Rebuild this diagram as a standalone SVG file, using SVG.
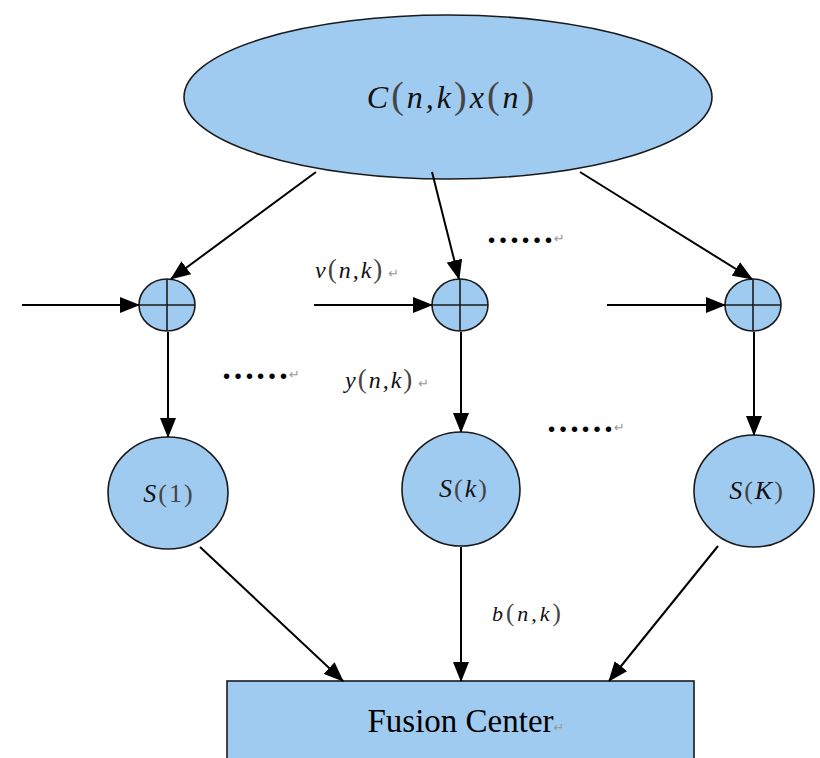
<svg xmlns="http://www.w3.org/2000/svg" width="820" height="758" viewBox="0 0 820 758">
<style>
.node{fill:#A0CBF0;stroke:#1a1a1a;stroke-width:1.6}
.cross{stroke:#1a1a1a;stroke-width:1.6}
.edge{stroke:#000;stroke-width:2;fill:none}
.math{font-family:"Liberation Serif","Times New Roman","DejaVu Serif",serif;font-style:italic;fill:#111}
.par{font-style:normal;fill:#444;font-weight:normal}
.ret{font-family:"DejaVu Sans",sans-serif;fill:#999;font-size:13px;font-style:normal;font-weight:normal;letter-spacing:0}
.dots{font-family:"Liberation Serif","Times New Roman","DejaVu Serif",serif;font-weight:bold;fill:#000;font-size:34px}
.title{font-family:"Liberation Serif","Times New Roman","DejaVu Serif",serif;fill:#000}
</style>
<defs>
<marker id="ah" markerUnits="userSpaceOnUse" markerWidth="20" markerHeight="16" refX="19" refY="8" orient="auto">
<path d="M0,0 L20,8 L0,16 z" fill="#000"/>
</marker>
</defs>
<g id="source">
<ellipse class="node" cx="448" cy="97" rx="264" ry="82"/>
<text class="math" x="452" y="108" font-size="32" letter-spacing="3" text-anchor="middle">C<tspan class="par" font-size="38">(</tspan>n,k<tspan class="par" font-size="38">)</tspan>x<tspan class="par" font-size="38">(</tspan>n<tspan class="par" font-size="38">)</tspan></text>
</g>
<g id="adder1">
<ellipse class="node" cx="167" cy="305" rx="28" ry="26"/>
<line class="cross" x1="139" y1="305" x2="195" y2="305"/>
<line class="cross" x1="167" y1="279" x2="167" y2="331"/>
</g>
<g id="adderk">
<ellipse class="node" cx="460" cy="305" rx="28" ry="26"/>
<line class="cross" x1="432" y1="305" x2="488" y2="305"/>
<line class="cross" x1="460" y1="279" x2="460" y2="331"/>
</g>
<g id="adderK">
<ellipse class="node" cx="753" cy="305" rx="28" ry="26"/>
<line class="cross" x1="725" y1="305" x2="781" y2="305"/>
<line class="cross" x1="753" y1="279" x2="753" y2="331"/>
</g>
<g id="s1">
<ellipse class="node" cx="168" cy="493" rx="60" ry="56"/>
<text class="math" x="169" y="502" font-size="26" letter-spacing="2" text-anchor="middle">S<tspan class="par">(1)</tspan></text>
</g>
<g id="sk">
<ellipse class="node" cx="461" cy="489" rx="59" ry="57"/>
<text class="math" x="464" y="497" font-size="26" letter-spacing="2" text-anchor="middle">S<tspan class="par">(</tspan>k<tspan class="par">)</tspan></text>
</g>
<g id="sK">
<ellipse class="node" cx="754" cy="491" rx="60" ry="56"/>
<text class="math" x="757" y="499" font-size="26" letter-spacing="2" text-anchor="middle">S<tspan class="par">(</tspan>K<tspan class="par">)</tspan></text>
</g>
<g id="fusion">
<rect class="node" x="227" y="681" width="467" height="90"/>
<text class="title" x="466" y="732" font-size="33" text-anchor="middle">Fusion Center<tspan class="ret">↵</tspan></text>
</g>
<g id="connectors">
<line class="edge" x1="316" y1="172" x2="171" y2="279" marker-end="url(#ah)"/>
<line class="edge" x1="432" y1="172" x2="459" y2="279" marker-end="url(#ah)"/>
<line class="edge" x1="580" y1="172" x2="752" y2="279" marker-end="url(#ah)"/>
<line class="edge" x1="22" y1="305" x2="139" y2="305" marker-end="url(#ah)"/>
<line class="edge" x1="314" y1="305" x2="432" y2="305" marker-end="url(#ah)"/>
<line class="edge" x1="607" y1="305" x2="725" y2="305" marker-end="url(#ah)"/>
<line class="edge" x1="168" y1="332" x2="168" y2="437" marker-end="url(#ah)"/>
<line class="edge" x1="461" y1="332" x2="461" y2="432" marker-end="url(#ah)"/>
<line class="edge" x1="754" y1="332" x2="754" y2="435" marker-end="url(#ah)"/>
<line class="edge" x1="200" y1="547" x2="343" y2="681" marker-end="url(#ah)"/>
<line class="edge" x1="461" y1="547" x2="461" y2="681" marker-end="url(#ah)"/>
<line class="edge" x1="718" y1="546" x2="609" y2="681" marker-end="url(#ah)"/>
</g>
<g id="labels">
<text class="math" x="315" y="278" font-size="24" letter-spacing="2">v<tspan class="par" font-size="27">(</tspan>n,k<tspan class="par" font-size="27">)</tspan><tspan class="ret" dx="4">↵</tspan></text>
<text class="math" x="345" y="388" font-size="24" letter-spacing="2">y<tspan class="par" font-size="27">(</tspan>n,k<tspan class="par" font-size="27">)</tspan><tspan class="ret" dx="4">↵</tspan></text>
<text class="math" x="492" y="621" font-size="22" letter-spacing="3">b<tspan class="par" font-size="25">(</tspan>n,k<tspan class="par" font-size="25">)</tspan></text>
<text class="dots" x="221" y="379">……<tspan class="ret">↵</tspan></text>
<text class="dots" x="486" y="243">……<tspan class="ret">↵</tspan></text>
<text class="dots" x="546" y="432">……<tspan class="ret">↵</tspan></text>
</g>
</svg>
